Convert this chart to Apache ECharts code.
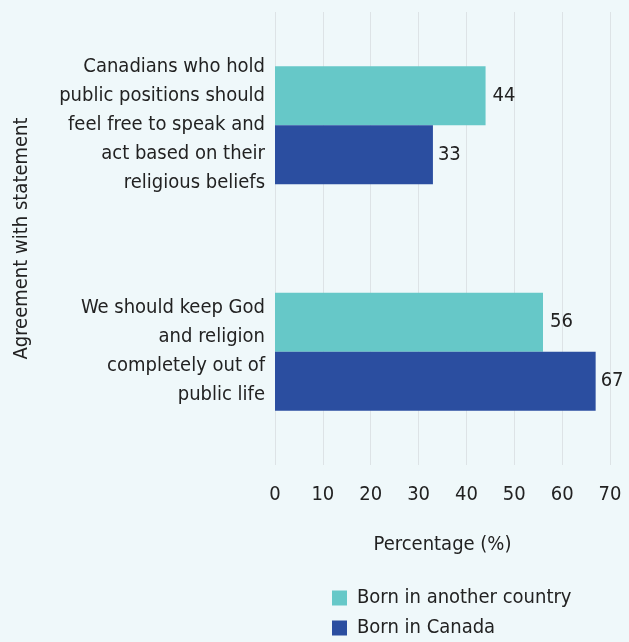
<!DOCTYPE html>
<html>
<head>
<meta charset="utf-8">
<script src="https://cdn.jsdelivr.net/npm/echarts@6/dist/echarts.min.js"></script>
<style>
  html, body { margin: 0; padding: 0; background: #eff8fa; }
  #main { width: 629px; height: 642px; }
</style>
</head>
<body>
<div id="main"></div>
<script>
const categories = [
  'Canadians who hold\npublic positions should\nfeel free to speak and\nact based on their\nreligious beliefs',
  'We should keep God\nand religion\ncompletely out of\npublic life'
];
const seriesNames = ['Born in another country', 'Born in Canada'];
const bornAnotherCountry = [44, 56];
const bornCanada = [33, 67];
const xTicks = [0, 10, 20, 30, 40, 50, 60, 70];

const font = "'Liberation Sans Narrow', 'DejaVu Sans Condensed', sans-serif";
const textColor = '#222222';
const fs = 20;

const legendBase = {
  orient: 'vertical',
  left: 332,
  padding: 0,
  itemWidth: 15,
  itemHeight: 15,
  icon: 'rect',
  textStyle: { fontFamily: font, fontSize: fs, lineHeight: 22, color: textColor, padding: [0, 0, 0, 5] }
};

const chart = echarts.init(document.getElementById('main'));
const option = {
  backgroundColor: '#eff8fa',
  textStyle: { fontFamily: font },
  grid: { left: 275, right: 19, top: 12, bottom: 177, containLabel: false },
  legend: [
    Object.assign({}, legendBase, { top: 587, data: [seriesNames[0]] }),
    Object.assign({}, legendBase, { top: 617, data: [seriesNames[1]] })
  ],
  xAxis: {
    type: 'value',
    min: xTicks[0],
    max: xTicks[xTicks.length - 1],
    interval: 10,
    name: 'Percentage (%)',
    nameLocation: 'middle',
    nameGap: 70,
    nameTextStyle: { fontFamily: font, fontSize: fs, color: textColor },
    axisLine: { show: false },
    axisTick: { show: false },
    axisLabel: { fontFamily: font, fontSize: fs, color: textColor, margin: 20 },
    splitLine: { show: true, lineStyle: { color: '#dde3e6', width: 1 } }
  },
  yAxis: {
    type: 'category',
    inverse: true,
    data: categories,
    name: 'Agreement with statement',
    nameLocation: 'middle',
    nameGap: 243,
    nameRotate: 90,
    nameTextStyle: { fontFamily: font, fontSize: fs, color: textColor },
    axisLine: { show: false },
    axisTick: { show: false },
    axisLabel: {
      fontFamily: font, fontSize: fs, color: textColor,
      margin: 10, align: 'right', lineHeight: 29
    }
  },
  series: [
    {
      name: seriesNames[0],
      type: 'bar',
      data: bornAnotherCountry,
      barWidth: 59,
      barGap: '0%',
      itemStyle: { color: '#66c8c8' },
      label: { show: true, position: 'right', distance: 7, fontFamily: font, fontSize: fs, color: textColor }
    },
    {
      name: seriesNames[1],
      type: 'bar',
      data: bornCanada,
      barWidth: 59,
      barGap: '0%',
      itemStyle: { color: '#2b4ea0' },
      label: { show: true, position: 'right', distance: 5, fontFamily: font, fontSize: fs, color: textColor }
    }
  ]
};
chart.setOption(option);
</script>
</body>
</html>
